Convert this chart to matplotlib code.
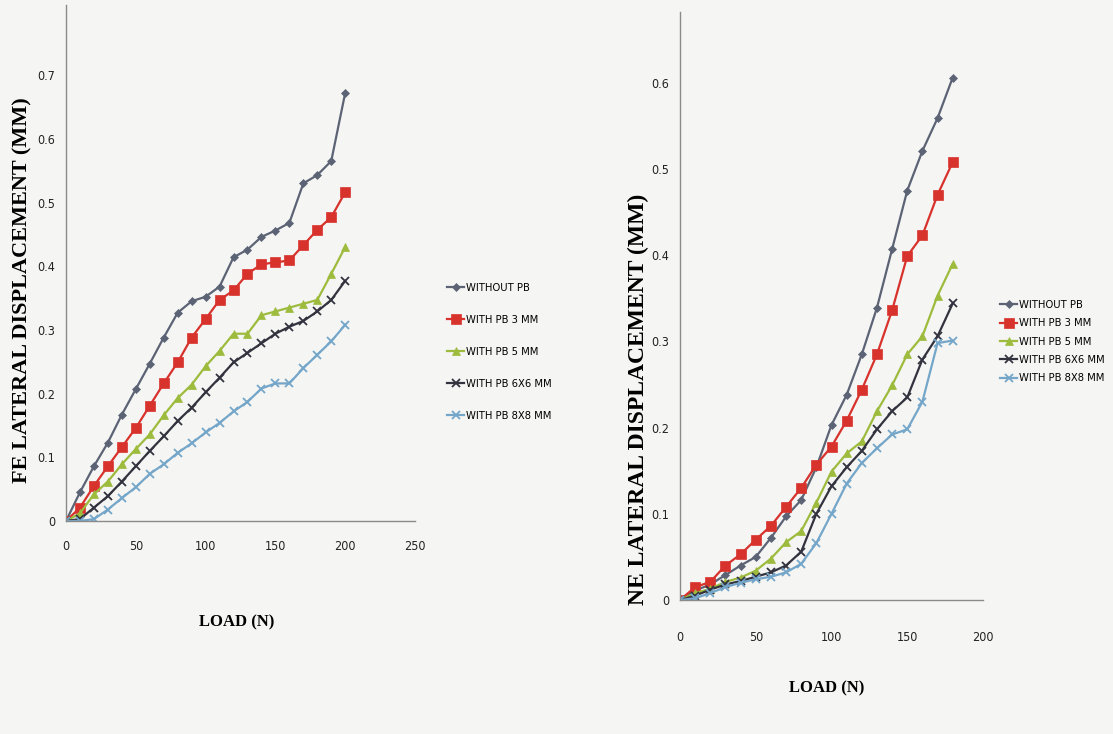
import matplotlib
matplotlib.use('Agg')
import matplotlib.pyplot as plt
from matplotlib.font_manager import FontProperties

# Load steps (N)
load_fe = list(range(0, 201, 10))
load_ne = list(range(0, 181, 10))

series_names = ['WITHOUT PB', 'WITH PB 3 MM', 'WITH PB 5 MM', 'WITH PB 6X6 MM', 'WITH PB 8X8 MM']

# FE lateral displacement (mm)
fe_without = [0, 0.045, 0.086, 0.123, 0.167, 0.207, 0.247, 0.288, 0.327, 0.345, 0.352,
              0.368, 0.414, 0.426, 0.446, 0.456, 0.468, 0.530, 0.543, 0.565, 0.672]
fe_pb3 = [0, 0.021, 0.055, 0.086, 0.116, 0.146, 0.181, 0.216, 0.249, 0.288, 0.317,
          0.347, 0.362, 0.388, 0.403, 0.406, 0.409, 0.433, 0.457, 0.477, 0.516]
fe_pb5 = [0, 0.012, 0.042, 0.062, 0.089, 0.113, 0.136, 0.166, 0.193, 0.214, 0.243,
          0.267, 0.294, 0.294, 0.323, 0.329, 0.335, 0.341, 0.347, 0.388, 0.430]
fe_pb6 = [0, 0.003, 0.021, 0.039, 0.062, 0.086, 0.110, 0.133, 0.157, 0.178, 0.202,
          0.225, 0.249, 0.264, 0.279, 0.294, 0.305, 0.314, 0.329, 0.347, 0.377]
fe_pb8 = [0, 0, 0.003, 0.018, 0.036, 0.053, 0.074, 0.089, 0.107, 0.122, 0.139,
          0.154, 0.172, 0.187, 0.208, 0.216, 0.216, 0.240, 0.261, 0.282, 0.308]

# NE lateral displacement (mm)
ne_without = [0, 0.011, 0.018, 0.029, 0.040, 0.050, 0.072, 0.097, 0.116, 0.154,
              0.203, 0.238, 0.285, 0.339, 0.407, 0.475, 0.521, 0.559, 0.606]
ne_pb3 = [0, 0.015, 0.021, 0.040, 0.053, 0.070, 0.086, 0.108, 0.130, 0.157,
          0.178, 0.208, 0.244, 0.285, 0.336, 0.399, 0.423, 0.470, 0.508]
ne_pb5 = [0, 0.008, 0.013, 0.021, 0.026, 0.034, 0.048, 0.067, 0.080, 0.113,
          0.149, 0.170, 0.184, 0.219, 0.249, 0.285, 0.306, 0.353, 0.390]
ne_pb6 = [0, 0.005, 0.012, 0.018, 0.022, 0.027, 0.032, 0.040, 0.056, 0.100,
          0.132, 0.154, 0.173, 0.198, 0.219, 0.235, 0.279, 0.306, 0.344]
ne_pb8 = [0, 0.002, 0.008, 0.015, 0.020, 0.024, 0.027, 0.032, 0.042, 0.066,
          0.100, 0.135, 0.159, 0.176, 0.192, 0.198, 0.230, 0.298, 0.301]

fe_ticks_x = [0, 50, 100, 150, 200, 250]
fe_ticks_y = [0, 0.1, 0.2, 0.3, 0.4, 0.5, 0.6, 0.7]
ne_ticks_x = [0, 50, 100, 150, 200]
ne_ticks_y = [0, 0.1, 0.2, 0.3, 0.4, 0.5, 0.6]

colors = ['#5b6375', '#d8322c', '#9dbb3c', '#33333f', '#74a6c9']
markers = ['D', 's', '^', 'x', 'x']
msizes = [4.5, 7, 5.5, 6, 6]

tick_prop = FontProperties(family=['DejaVu Sans'], stretch='condensed', size=9)
legend_prop = FontProperties(family=['DejaVu Sans'], stretch='condensed', size=8)
serif_font = ['Liberation Serif', 'DejaVu Serif']

fig = plt.figure(figsize=(11.13, 7.34), dpi=100)
fig.patch.set_facecolor('#f5f5f3')


def style_axes(ax, xticks, yticks, xpad, ypad):
    ax.set_facecolor('none')
    for s in ['top', 'right']:
        ax.spines[s].set_visible(False)
    for s in ['left', 'bottom']:
        ax.spines[s].set_color('#8a8a8a')
        ax.spines[s].set_linewidth(1.0)
    ax.set_xticks(xticks)
    ax.set_yticks(yticks)
    ax.set_yticklabels(['0' if v == 0 else f'{v:g}' for v in yticks])
    ax.tick_params(length=0, colors='#222222')
    ax.tick_params(axis='x', pad=xpad)
    ax.tick_params(axis='y', pad=ypad)
    for lab in ax.get_xticklabels() + ax.get_yticklabels():
        lab.set_fontproperties(tick_prop)


def draw(ax, x, data):
    for y, name, c, m, ms in zip(data, series_names, colors, markers, msizes):
        ax.plot(x, y, color=c, marker=m, markersize=ms, linewidth=1.6,
                markeredgewidth=1.3 if m == 'x' else 0.5, label=name)


# Left: FE
ax1 = fig.add_axes([66 / 1113, 1 - 521 / 734, (415 - 66) / 1113, (521 - 5) / 734])
draw(ax1, load_fe, [fe_without, fe_pb3, fe_pb5, fe_pb6, fe_pb8])
ax1.set_xlim(0, 250)
ax1.set_ylim(0, 516 / 637.0)
style_axes(ax1, fe_ticks_x, fe_ticks_y, 14, 8)
ax1.legend(loc='upper left', bbox_to_anchor=(1.064, 0.48), frameon=False,
           labelspacing=1.97, handlelength=1.5, handletextpad=0.2, prop=legend_prop)
fig.text(22 / 1113, 1 - 290 / 734, 'FE LATERAL DISPLACEMENT (MM)', rotation=90,
         ha='center', va='center', family=serif_font, fontweight='bold', fontsize=16)
fig.text(237 / 1113, 1 - 622 / 734, 'LOAD (N)', ha='center', va='center',
         family=serif_font, fontweight='bold', fontsize=12)

# Right: NE
ax2 = fig.add_axes([680 / 1113, 1 - 600 / 734, (983 - 680) / 1113, (600 - 12) / 734])
draw(ax2, load_ne, [ne_without, ne_pb3, ne_pb5, ne_pb6, ne_pb8])
ax2.set_xlim(0, 200)
ax2.set_ylim(0, 588 / 862.0)
style_axes(ax2, ne_ticks_x, ne_ticks_y, 22, 8)
ax2.legend(loc='upper left', bbox_to_anchor=(1.024, 0.527), frameon=False,
           labelspacing=0.75, handlelength=1.5, handletextpad=0.2, prop=legend_prop)
fig.text(638 / 1113, 1 - 399 / 734, 'NE LATERAL DISPLACEMENT (MM)', rotation=90,
         ha='center', va='center', family=serif_font, fontweight='bold', fontsize=17)
fig.text(827 / 1113, 1 - 688 / 734, 'LOAD (N)', ha='center', va='center',
         family=serif_font, fontweight='bold', fontsize=12)

fig.savefig('out.png', dpi=100, facecolor=fig.get_facecolor())
